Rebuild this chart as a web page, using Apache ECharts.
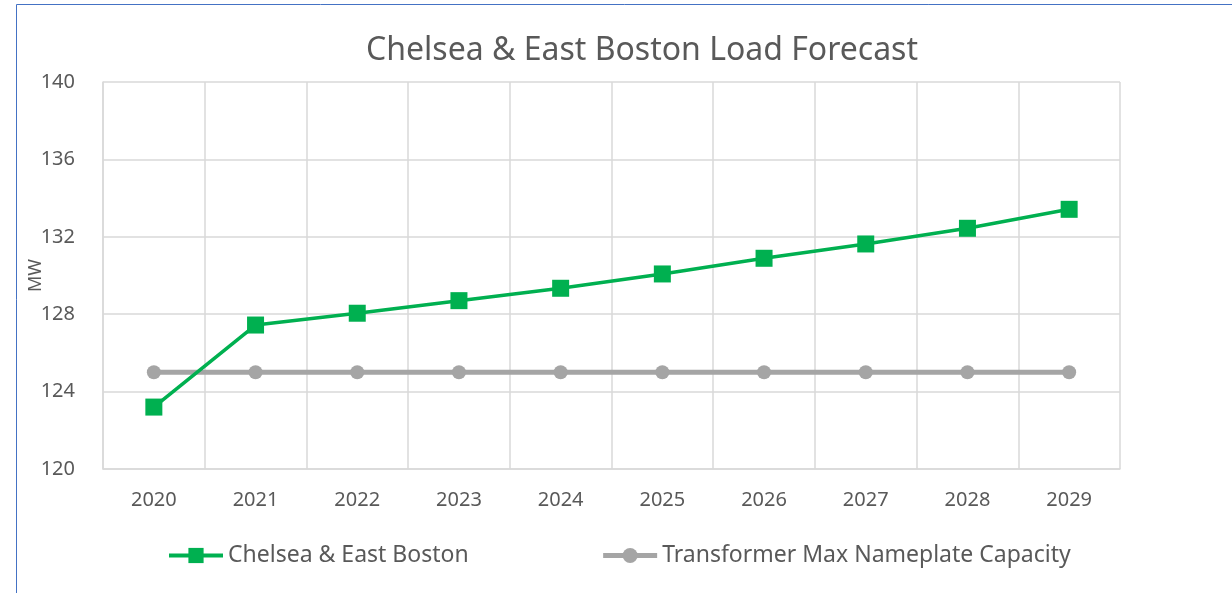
<!DOCTYPE html>
<html><head><meta charset="utf-8">
<script src="https://cdn.jsdelivr.net/npm/echarts@6/dist/echarts.min.js"></script>
<style>html,body{margin:0;padding:0;background:#fff}#c{width:1232px;height:593px}</style>
</head><body><div id="c"></div>
<script>
const categories = ['2020','2021','2022','2023','2024','2025','2026','2027','2028','2029'];
const loadForecast = [123.2, 127.44, 128.05, 128.7, 129.34, 130.08, 130.89, 131.63, 132.44, 133.42];
const transformerCapacity = [125, 125, 125, 125, 125, 125, 125, 125, 125, 125];
const seriesNames = ['Chelsea & East Boston', 'Transformer Max Nameplate Capacity'];
const titleText = 'Chelsea & East Boston Load Forecast';

const chart = echarts.init(document.getElementById('c'));
const font = '"Noto Sans", "Open Sans", sans-serif';
const grid = '#D9D9D9';
const green = '#00B050', gray = '#A5A5A5';
chart.setOption({
  animation: false,
  textStyle: { fontFamily: font },
  graphic: [{ type: 'rect', shape: { x: 16.5, y: 4.5, width: 1400, height: 800 }, style: { fill: 'none', stroke: '#4472C4', lineWidth: 1 }, silent: true }],
  title: { text: titleText, left: 361, top: 30, textStyle: { fontFamily: font, fontSize: 32, fontWeight: 'normal', color: '#595959' } },
  grid: { left: 103, right: 112, top: 82, bottom: 124 },
  legend: {
    left: 162, top: 539, itemWidth: 54, itemHeight: 19, itemGap: 132,
    textStyle: { fontFamily: font, fontSize: 23, color: '#595959' },
    data: [
      { name: seriesNames[0], lineStyle: { width: 4, color: green } },
      { name: seriesNames[1], lineStyle: { width: 5, color: gray } }
    ]
  },
  xAxis: {
    type: 'category', data: categories, boundaryGap: true,
    axisLine: { show: true, lineStyle: { color: grid, width: 1.5 } },
    axisTick: { show: false },
    splitLine: { show: true, lineStyle: { color: grid, width: 1.5 } },
    axisLabel: { fontSize: 20, color: '#595959', margin: 21, interval: 0 }
  },
  yAxis: {
    type: 'value', min: 120, max: 140, interval: 4,
    name: 'MW', nameLocation: 'middle', nameGap: 58, nameRotate: 90, nameMoveOverlap: false,
    nameTextStyle: { fontSize: 18, color: '#595959', fontFamily: font },
    axisLine: { show: true, lineStyle: { color: grid, width: 1.5 } },
    axisTick: { show: false },
    splitLine: { show: true, lineStyle: { color: grid, width: 1.5 } },
    axisLabel: { fontSize: 20, color: '#595959', margin: 28 }
  },
  series: [
    { name: seriesNames[0], type: 'line', data: loadForecast, symbol: 'rect', symbolSize: 17,
      itemStyle: { color: green }, lineStyle: { color: green, width: 3.5 }, z: 3 },
    { name: seriesNames[1], type: 'line', data: transformerCapacity, symbol: 'circle', symbolSize: 14,
      itemStyle: { color: gray }, lineStyle: { color: gray, width: 5 }, z: 2 }
  ]
});
</script></body></html>
